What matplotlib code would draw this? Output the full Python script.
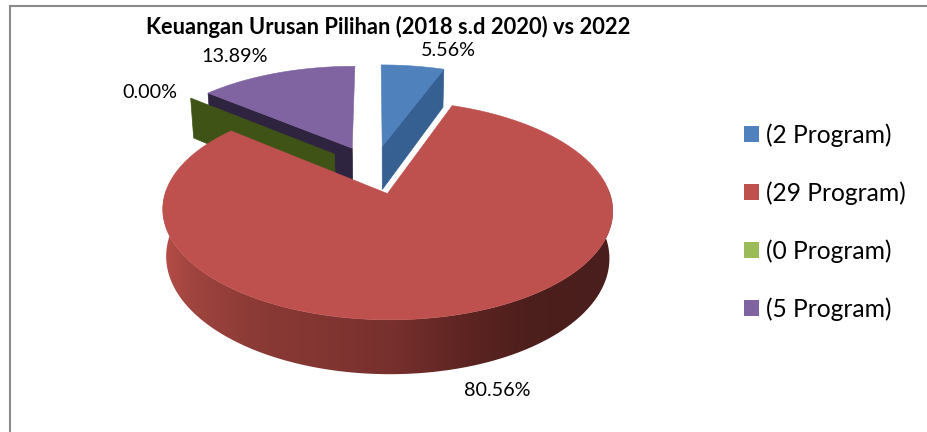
import numpy as np
import matplotlib
matplotlib.use('Agg')
import matplotlib.pyplot as plt
from matplotlib.patches import Patch, Polygon

labels = ['(2 Program)', '(29 Program)', '(0 Program)', '(5 Program)']
counts = [2, 29, 0, 5]
top_colors = ['#4F81BD', '#BE504D', '#9BBB59', '#8064A2']
cut_colors = ['#376092', '#632523', '#3F5317', '#2F2440']
title = 'Keuangan Urusan Pilihan (2018 s.d 2020) vs 2022'

plt.rcParams['font.family'] = ['Lato', 'DejaVu Sans']

# pie camera, in pixels of the figure
CX, CY = 373.5, 169.4
A, B = 226.0, 105.0
K = 0.155
RADIUS = 0.95
EXPLODE = 0.23
DEPTH = 44.5


def project(u, v, lower=False):
    d = 1 - K * v
    x = CX + A * u / d
    y = CY + B * v / d
    if lower:
        x = CX + 16 + (x - CX - 16) * 0.985
        y = y + DEPTH / d
    return x, y


def slice_origin(mid):
    return EXPLODE * np.sin(mid), -EXPLODE * np.cos(mid)


def cut_face(ax, angle, mid, color):
    ou, ov = slice_origin(mid)
    u = ou + RADIUS * np.sin(angle)
    v = ov - RADIUS * np.cos(angle)
    x0, y0 = project(ou, ov)
    x1, y1 = project(u, v)
    x2, y2 = project(u, v, True)
    x3, y3 = project(ou, ov, True)
    ax.add_patch(Polygon([(x0, y0), (x1, y1), (x2, y2), (x3, y3)], closed=True,
                         facecolor=color, edgecolor=color, lw=0.5))


def rim(ax, start, stop, mid):
    # outer wall of a slice, shaded left to right with a clipped gradient
    ou, ov = slice_origin(mid)
    t = np.linspace(start, stop, 240)
    u = ou + RADIUS * np.sin(t)
    v = ov - RADIUS * np.cos(t)
    x1, y1 = project(u, v)
    x2, y2 = project(u, v, True)
    pts = np.r_[np.column_stack([x1, y1]), np.column_stack([x2, y2])[::-1]]
    outline = Polygon(pts, closed=True, facecolor='none', edgecolor='none', transform=ax.transData)
    ax.add_patch(outline)

    xs = np.arange(150, 630)
    stops_x = [163, 190, 250, 390, 470, 530, 613]
    stops = [(0.72, 0.30, 0.28), (0.63, 0.27, 0.25), (0.55, 0.23, 0.21), (0.47, 0.19, 0.18),
             (0.36, 0.14, 0.13), (0.30, 0.12, 0.11), (0.29, 0.12, 0.11)]
    grad = np.stack([np.interp(xs, stops_x, [s[i] for s in stops]) for i in range(3)], axis=-1)
    im = ax.imshow(grad[np.newaxis, :, :], extent=(150, 630, 380, 190), aspect='auto',
                   interpolation='bilinear')
    im.set_clip_path(outline)


def top_face(ax, start, stop, mid, color):
    ou, ov = slice_origin(mid)
    t = np.linspace(start, stop, 160)
    x, y = project(ou + RADIUS * np.sin(t), ov - RADIUS * np.cos(t))
    ox, oy = project(ou, ov)
    pts = np.column_stack([np.r_[ox, x], np.r_[oy, y]])
    ax.add_patch(Polygon(pts, closed=True, facecolor=color, edgecolor=color, lw=0.4))


fig = plt.figure(figsize=(9.28, 4.32), dpi=100)
ax = fig.add_axes([0, 0, 1, 1])

# chart border, only its top and left sides fall inside the figure
ax.plot([10, 928], [6, 6], color='#8A8A8A', lw=1.5, solid_capstyle='butt')
ax.plot([10, 10], [5, 432], color='#8A8A8A', lw=1.5, solid_capstyle='butt')

total = sum(counts)
edges = np.r_[0, np.cumsum(counts)] / total * 2 * np.pi
starts, stops = edges[:-1], edges[1:]
mids = (starts + stops) / 2

# back to front: purple, green, blue, red
cut_face(ax, starts[3], mids[3], cut_colors[3])
top_face(ax, starts[3], stops[3], mids[3], top_colors[3])
cut_face(ax, starts[2], mids[2], cut_colors[2])
cut_face(ax, stops[0], mids[0], cut_colors[0])
top_face(ax, starts[0], stops[0], mids[0], top_colors[0])
rim(ax, np.pi / 2 - 0.2, 3 * np.pi / 2 + 0.2, mids[1])
top_face(ax, starts[1], stops[1], mids[1], top_colors[1])

ax.set_xlim(0, 928)
ax.set_ylim(432, 0)
ax.axis('off')

# value labels
label_pos = [(448, 51), (497, 390), (150, 92), (235, 57)]
for n, (px, py) in zip(counts, label_pos):
    ax.text(px, py, f'{n / total * 100:.2f}%', ha='center', va='center',
            fontsize=14.2, color='black')

ax.text(388, 27, title, ha='center', va='center', fontsize=15.75, fontweight='bold', color='black')

handles = [Patch(facecolor=c, edgecolor='none') for c in top_colors]
ax.legend(handles, labels, loc='center left', bbox_to_anchor=(744 / 928, 1 - 222 / 432),
          frameon=False, fontsize=17.7, handlelength=0.61, handleheight=0.61,
          handletextpad=0.285, labelspacing=1.4, borderpad=0, borderaxespad=0)

fig.savefig('out.png', dpi=100)
